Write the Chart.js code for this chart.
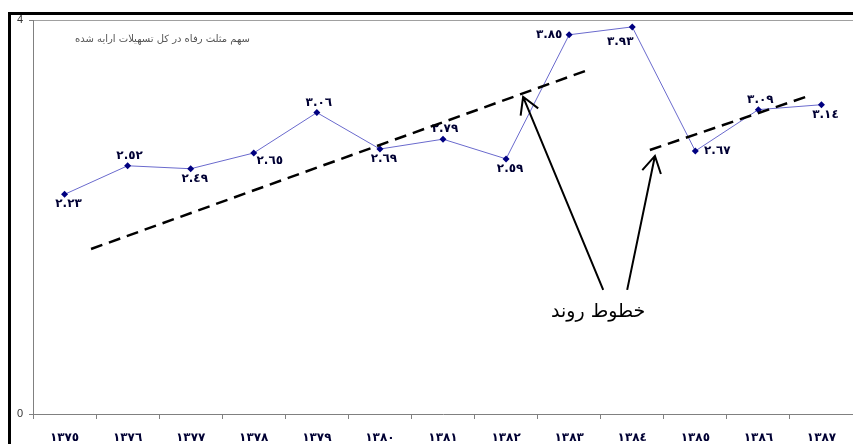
<!DOCTYPE html>
<html>
<head>
<meta charset="utf-8">
<script src="https://cdn.jsdelivr.net/npm/chart.js@4/dist/chart.umd.min.js"></script>
<style>
	body { margin: 0; background: #fff; }
	#wrap { width: 853px; height: 444px; }
</style>
</head>
<body>
<div id="wrap"><canvas id="chart" width="853" height="444"></canvas></div>
<script>
const years = [1375, 1376, 1377, 1378, 1379, 1380, 1381, 1382, 1383, 1384, 1385, 1386, 1387];
const share = [2.23, 2.52, 2.49, 2.65, 3.06, 2.69, 2.79, 2.59, 3.85, 3.93, 2.67, 3.09, 3.14];
const labelSide = ['below', 'above', 'below', 'belowRight', 'above', 'below', 'above', 'below', 'left', 'belowLeft', 'right', 'above', 'below'];
const yTicks = [0, 4];
const chartTitle = 'سهم مثلث رفاه در کل تسهیلات ارایه شده';
const trendNote = 'خطوط روند';
// trend lines and arrows in chart values: [category index, value]
const trendLines = [
	[[0.42, 1.675], [8.33, 3.50]],
	[[9.28, 2.68], [11.80, 3.23]]
];
const arrows = [
	[[8.54, 1.26], [7.27, 3.22]],
	[[8.92, 1.26], [9.36, 2.62]]
];
const notePos = [8.46, 1.03];

const arabicDigits = '٠١٢٣٤٥٦٧٨٩';
const toArabic = (v) => String(v).replace(/[0-9]/g, (d) => arabicDigits[d]);

const sideOffset = {
	above: [2, -10], below: [4, 10], left: [-20, 0], right: [22, 0],
	belowLeft: [-12, 15], belowRight: [16, 8]
};

const extras = {
	id: 'extras',
	beforeDraw(chart) {
		const c = chart.ctx, a = chart.chartArea;
		c.save();
		c.fillStyle = '#000';
		c.fillRect(8, 12, 3, 432);
		c.fillRect(8, 12, 845, 3);
		c.strokeStyle = '#a0a0a0';
		c.lineWidth = 1;
		c.beginPath();
		c.moveTo(a.left, a.top + 0.5);
		c.lineTo(853, a.top + 0.5);
		c.stroke();
		c.fillStyle = '#555';
		c.font = '10px "DejaVu Sans"';
		c.textAlign = 'right';
		c.textBaseline = 'middle';
		c.direction = 'rtl';
		c.fillText(chartTitle, a.left + 217, a.top + 19);
		c.restore();
	},
	afterDatasetsDraw(chart) {
		const c = chart.ctx, x = chart.scales.x, y = chart.scales.y;
		const px = (p) => [x.getPixelForValue(p[0]), y.getPixelForValue(p[1])];
		c.save();

		// value labels
		const meta = chart.getDatasetMeta(0);
		c.font = 'bold 12px "DejaVu Sans"';
		c.fillStyle = '#000033';
		c.textAlign = 'center';
		c.textBaseline = 'middle';
		meta.data.forEach((pt, i) => {
			const off = sideOffset[labelSide[i]];
			c.fillText(toArabic(share[i].toFixed(2)), pt.x + off[0], pt.y + off[1]);
		});

		// dashed trend lines
		c.strokeStyle = '#000';
		c.lineWidth = 2.5;
		c.setLineDash([12, 7]);
		trendLines.forEach((ln) => {
			const p0 = px(ln[0]), p1 = px(ln[1]);
			c.beginPath();
			c.moveTo(p0[0], p0[1]);
			c.lineTo(p1[0], p1[1]);
			c.stroke();
		});

		// arrows
		c.setLineDash([]);
		c.lineWidth = 2;
		arrows.forEach((ar) => {
			const b = px(ar[0]), t = px(ar[1]);
			const ang = Math.atan2(b[1] - t[1], b[0] - t[0]);
			const len = 19, spread = Math.PI / 6;
			c.beginPath();
			c.moveTo(b[0], b[1]);
			c.lineTo(t[0], t[1]);
			c.moveTo(t[0] + len * Math.cos(ang - spread), t[1] + len * Math.sin(ang - spread));
			c.lineTo(t[0], t[1]);
			c.lineTo(t[0] + len * Math.cos(ang + spread), t[1] + len * Math.sin(ang + spread));
			c.stroke();
		});

		const n = px(notePos);
		c.fillStyle = '#000';
		c.font = '19px "DejaVu Sans"';
		c.direction = 'rtl';
		c.fillText(trendNote, n[0], n[1]);
		c.restore();
	}
};

new Chart(document.getElementById('chart'), {
	type: 'line',
	data: {
		labels: years.map(toArabic),
		datasets: [{
			label: chartTitle,
			data: share,
			borderColor: '#6a6acd',
			borderWidth: 1,
			pointStyle: 'rectRot',
			pointRadius: 3.5,
			pointBackgroundColor: '#000080',
			pointBorderColor: '#000080',
			pointBorderWidth: 0,
			tension: 0
		}]
	},
	options: {
		responsive: false,
		animation: false,
		layout: { autoPadding: false, padding: { left: 10, top: 20, right: 0, bottom: 0 } },
		plugins: { legend: { display: false }, tooltip: { enabled: false } },
		scales: {
			x: {
				type: 'category',
				offset: true,
				grid: { offset: true, drawOnChartArea: false, tickLength: 5, color: '#808080' },
				border: { color: '#808080' },
				ticks: {
					color: '#000033',
					font: { family: 'DejaVu Sans', size: 12, weight: 'bold' },
					padding: 12,
					maxRotation: 0,
					autoSkip: false
				},
				afterFit: (s) => { s.height = 30; s.paddingLeft = 0; s.paddingRight = 0; }
			},
			y: {
				min: 0,
				max: 4,
				afterBuildTicks: (s) => { s.ticks = yTicks.map((v) => ({ value: v })); },
				grid: { drawOnChartArea: false, tickLength: 4, color: '#808080' },
				border: { color: '#808080' },
				ticks: { color: '#333', font: { family: 'Liberation Sans', size: 11 }, padding: 6 },
				afterFit: (s) => { s.width = 23; s.paddingTop = 0; s.paddingBottom = 0; }
			}
		}
	},
	plugins: [extras]
});
</script>
</body>
</html>
